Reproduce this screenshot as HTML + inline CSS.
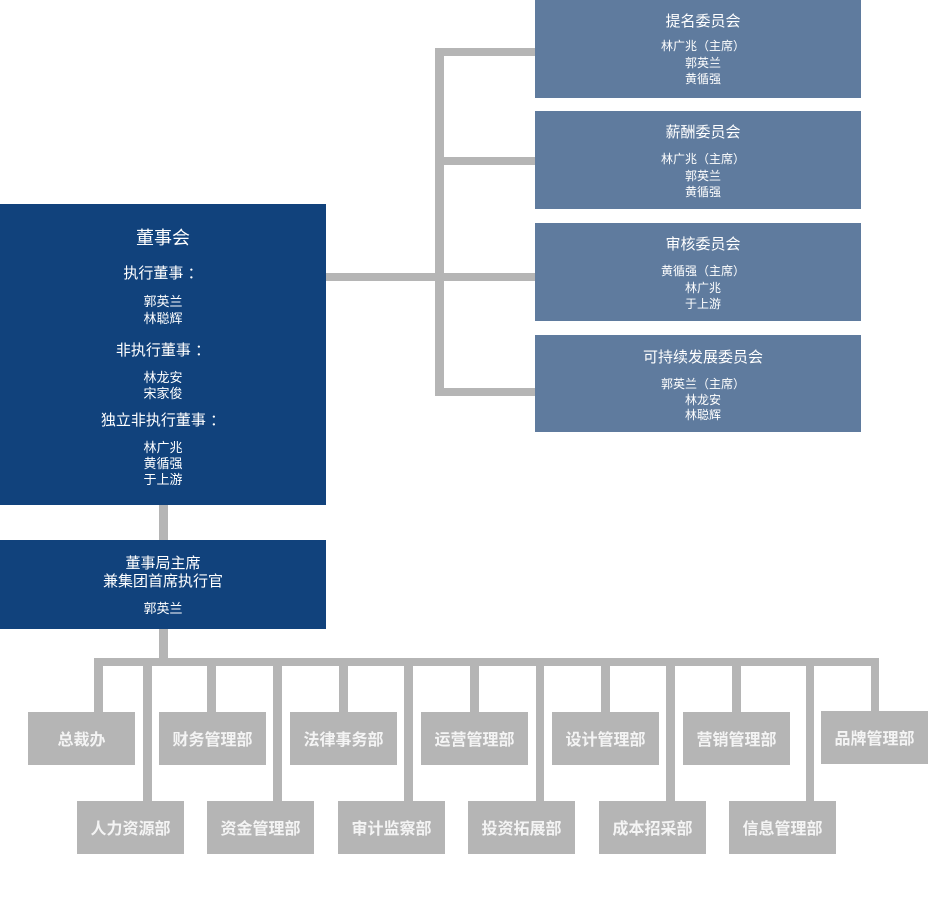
<!DOCTYPE html>
<html><head><meta charset="utf-8"><style>
body{margin:0;width:929px;height:901px;position:relative;background:#fff;overflow:hidden;font-family:"Liberation Sans","Noto Sans CJK SC","WenQuanYi Zen Hei",sans-serif;color:#fff}
div{position:absolute}
.g{background:#b5b5b5}
.b{background:#11427c}
.c{background:#5f7b9e}
.t{left:0;right:0;text-align:center;line-height:1;white-space:nowrap}
.c .t{left:10px}
.d{background:#b5b5b5;width:107px;height:53px;line-height:57px;text-align:center;font-size:16px;font-weight:bold;color:#f4f4f4}
</style></head><body>
<div class="g" style="left:326px;top:273px;width:209px;height:8px"></div>
<div class="g" style="left:435px;top:48px;width:9px;height:348px"></div>
<div class="g" style="left:435px;top:48px;width:100px;height:8px"></div>
<div class="g" style="left:435px;top:157px;width:100px;height:8px"></div>
<div class="g" style="left:435px;top:388px;width:100px;height:8px"></div>
<div class="g" style="left:159px;top:505px;width:9px;height:35px"></div>
<div class="g" style="left:159px;top:629px;width:9px;height:30px"></div>
<div class="g" style="left:94px;top:658px;width:785px;height:8px"></div>
<div class="g" style="left:94px;top:658px;width:9px;height:54px"></div>
<div class="g" style="left:207px;top:658px;width:9px;height:54px"></div>
<div class="g" style="left:339px;top:658px;width:9px;height:54px"></div>
<div class="g" style="left:470px;top:658px;width:9px;height:54px"></div>
<div class="g" style="left:601px;top:658px;width:9px;height:54px"></div>
<div class="g" style="left:732px;top:658px;width:9px;height:54px"></div>
<div class="g" style="left:871px;top:658px;width:8px;height:54px"></div>
<div class="g" style="left:143px;top:658px;width:9px;height:143px"></div>
<div class="g" style="left:273px;top:658px;width:9px;height:143px"></div>
<div class="g" style="left:404px;top:658px;width:9px;height:143px"></div>
<div class="g" style="left:536px;top:658px;width:8px;height:143px"></div>
<div class="g" style="left:666px;top:658px;width:9px;height:143px"></div>
<div class="g" style="left:806px;top:658px;width:8px;height:143px"></div>

<div class="b" style="left:0;top:204px;width:326px;height:301px">
<div class="t" style="top:25px;font-size:18px">董事会</div>
<div class="t" style="top:62px;font-size:15px">执行董事 ：</div>
<div class="t" style="top:91px;font-size:13px">郭英兰</div>
<div class="t" style="top:108px;font-size:13px">林聪辉</div>
<div class="t" style="top:139px;font-size:15px">非执行董事 ：</div>
<div class="t" style="top:167px;font-size:13px">林龙安</div>
<div class="t" style="top:183px;font-size:13px">宋家俊</div>
<div class="t" style="top:209px;font-size:15px">独立非执行董事 ：</div>
<div class="t" style="top:237px;font-size:13px">林广兆</div>
<div class="t" style="top:253px;font-size:13px">黄循强</div>
<div class="t" style="top:269px;font-size:13px">于上游</div>
</div>
<div class="b" style="left:0;top:540px;width:326px;height:89px">
<div class="t" style="top:16px;font-size:15px">董事局主席</div>
<div class="t" style="top:34px;font-size:15px">兼集团首席执行官</div>
<div class="t" style="top:62px;font-size:13px">郭英兰</div>
</div>

<div class="c" style="left:535px;top:0;width:326px;height:98px">
<div class="t" style="top:14px;font-size:15px">提名委员会</div>
<div class="t" style="top:40px;font-size:12px">林广兆（主席）</div>
<div class="t" style="top:57px;font-size:12px">郭英兰</div>
<div class="t" style="top:73px;font-size:12px">黄循强</div>
</div>
<div class="c" style="left:535px;top:111px;width:326px;height:98px">
<div class="t" style="top:14px;font-size:15px">薪酬委员会</div>
<div class="t" style="top:42px;font-size:12px">林广兆（主席）</div>
<div class="t" style="top:59px;font-size:12px">郭英兰</div>
<div class="t" style="top:75px;font-size:12px">黄循强</div>
</div>
<div class="c" style="left:535px;top:223px;width:326px;height:98px">
<div class="t" style="top:14px;font-size:15px">审核委员会</div>
<div class="t" style="top:42px;font-size:12px">黄循强（主席）</div>
<div class="t" style="top:59px;font-size:12px">林广兆</div>
<div class="t" style="top:75px;font-size:12px">于上游</div>
</div>
<div class="c" style="left:535px;top:335px;width:326px;height:97px">
<div class="t" style="top:15px;font-size:15px">可持续发展委员会</div>
<div class="t" style="top:43px;font-size:12px">郭英兰（主席）</div>
<div class="t" style="top:59px;font-size:12px">林龙安</div>
<div class="t" style="top:74px;font-size:12px">林聪辉</div>
</div>

<div class="d" style="left:28px;top:712px">总裁办</div>
<div class="d" style="left:159px;top:712px">财务管理部</div>
<div class="d" style="left:290px;top:712px">法律事务部</div>
<div class="d" style="left:421px;top:712px">运营管理部</div>
<div class="d" style="left:552px;top:712px">设计管理部</div>
<div class="d" style="left:683px;top:712px">营销管理部</div>
<div class="d" style="left:821px;top:711px">品牌管理部</div>
<div class="d" style="left:77px;top:801px">人力资源部</div>
<div class="d" style="left:207px;top:801px">资金管理部</div>
<div class="d" style="left:338px;top:801px">审计监察部</div>
<div class="d" style="left:468px;top:801px">投资拓展部</div>
<div class="d" style="left:599px;top:801px">成本招采部</div>
<div class="d" style="left:729px;top:801px">信息管理部</div>
</body></html>
